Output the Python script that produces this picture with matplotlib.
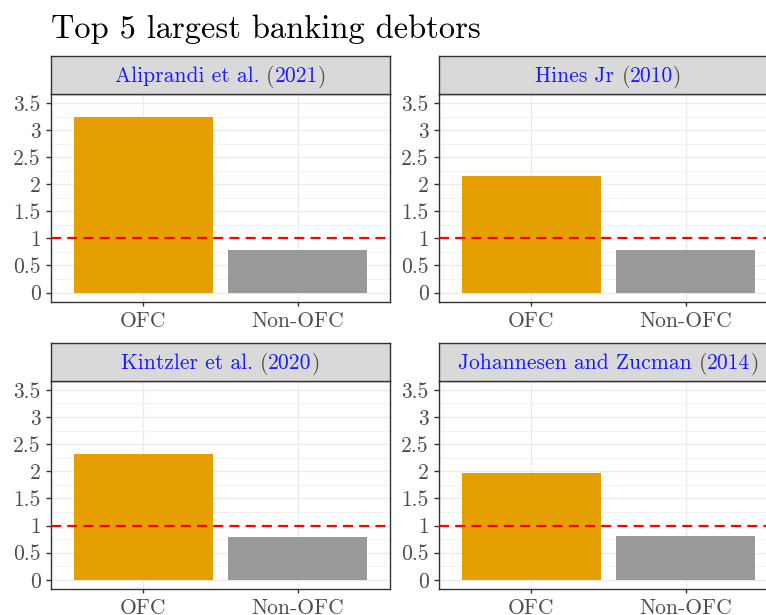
import matplotlib
matplotlib.use("Agg")
import matplotlib.pyplot as plt
import numpy as np

plt.rcParams.update({
    "font.family": "cmr10",
    "axes.formatter.use_mathtext": True,
    "axes.unicode_minus": False,
})

# data
studies = ["Aliprandi et al.", "Hines Jr", "Kintzler et al.", "Johannesen and Zucman"]
years = ["2021", "2010", "2020", "2014"]
groups = ["OFC", "Non-OFC"]
ofc_vals = [3.25, 2.16, 2.31, 1.96]
non_ofc_vals = [0.79, 0.79, 0.79, 0.80]
y_ticks = [0, 0.5, 1, 1.5, 2, 2.5, 3, 3.5]
y_tick_labels = ["0", "0.5", "1", "1.5", "2", "2.5", "3", "3.5"]
threshold = 1.0

bar_colors = ["#E69F00", "#999999"]
W, H = 766, 615
fig = plt.figure(figsize=(W / 100, H / 100), dpi=100)


def fx(px):
    return px / W


def fy(py):
    return 1 - py / H


# panel boxes in pixels: left, top of strip, bottom of strip, bottom of panel
panels = [
    (51, 56, 94, 301.7),
    (439, 56, 94, 301.7),
    (51, 343, 380.7, 589),
    (439, 343, 380.7, 589),
]
panel_w = 339
label_size = 15.5

renderer = fig.canvas.get_renderer()


def text_width(s, size):
    t = fig.text(0, 0, s + "|", fontsize=size)
    w = t.get_window_extent(renderer).width
    t.remove()
    t = fig.text(0, 0, "|", fontsize=size)
    w -= t.get_window_extent(renderer).width
    t.remove()
    return w


def strip_label(cx, baseline, parts, size):
    # citation style: names/years blue, brackets grey
    offsets = []
    prefix = ""
    for s, c in parts:
        offsets.append(text_width(prefix, size) if prefix else 0)
        prefix += s
    total = text_width(prefix, size)
    x0 = cx - total / 2
    for (s, c), off in zip(parts, offsets):
        fig.text(fx(x0 + off), fy(baseline), s, color=c, fontsize=size,
                 ha="left", va="baseline")


for i, (left, stop, sbot, pbot) in enumerate(panels):
    ax = fig.add_axes([fx(left), fy(pbot), fx(panel_w), (pbot - sbot) / H])
    x = np.arange(1, len(groups) + 1)
    ax.bar(x, [ofc_vals[i], non_ofc_vals[i]], width=0.9, color=bar_colors, zorder=2)
    ax.axhline(threshold, color="#FF0000", lw=1.6, ls=(0, (4.5, 2.8)), zorder=3)
    ax.set_xlim(0.4, 2.6)
    ax.set_ylim(-0.17, 3.67)
    ax.set_xticks(x, groups)
    ax.set_yticks(y_ticks, y_tick_labels)
    ax.set_yticks(np.arange(0.25, 3.7, 0.5), minor=True)
    ax.grid(True, which="major", color="#EBEBEB", lw=1.0, zorder=0)
    ax.grid(True, which="minor", axis="y", color="#F2F2F2", lw=0.8, zorder=0)
    ax.tick_params(axis="y", which="major", length=3.5, width=1, color="#333333",
                   labelsize=label_size, labelcolor="#4D4D4D", pad=4)
    ax.tick_params(axis="x", which="major", length=3, width=1, color="#333333",
                   labelsize=label_size, labelcolor="#4D4D4D", pad=4)
    ax.tick_params(which="minor", length=0)
    for sp in ax.spines.values():
        sp.set_color("#333333")
        sp.set_linewidth(1.0)

    sax = fig.add_axes([fx(left), fy(sbot), fx(panel_w), (sbot - stop) / H])
    sax.set_facecolor("#D9D9D9")
    sax.set_xticks([])
    sax.set_yticks([])
    for sp in sax.spines.values():
        sp.set_color("#333333")
        sp.set_linewidth(1.0)

    strip_label(left + panel_w / 2, (stop + sbot) / 2 + 7.5,
                [(studies[i] + " ", "#1A1AFF"), ("(", "#4D4D4D"),
                 (years[i], "#1A1AFF"), (")", "#4D4D4D")], label_size)

fig.text(fx(51), fy(37.5), "Top 5 largest banking debtors", fontsize=23.4,
         ha="left", va="baseline")

fig.savefig("out.png", dpi=100)
